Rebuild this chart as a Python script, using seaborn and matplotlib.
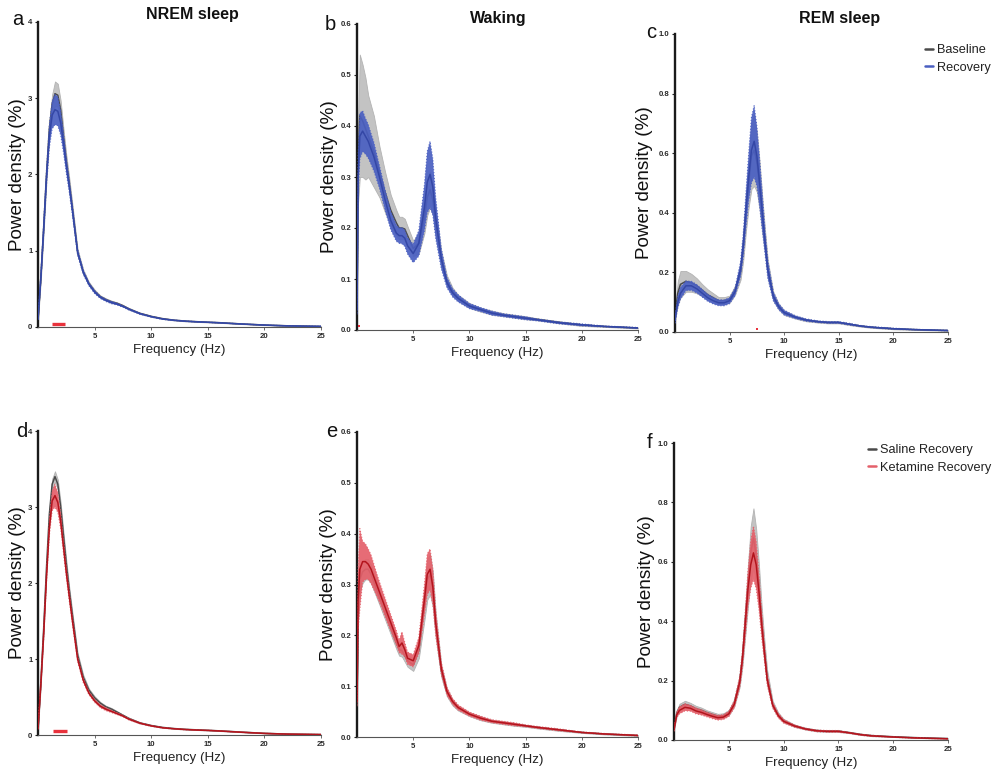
import numpy as np
import matplotlib
matplotlib.use("Agg")
import matplotlib.pyplot as plt
from matplotlib.lines import Line2D
import seaborn as sns

# ---------------- frequency grids (Hz) ----------------
freq_nrem = [0, 0.25, 0.5, 0.75, 1, 1.25, 1.5, 1.75, 2, 2.25, 2.5, 2.75, 3, 3.5, 4, 4.5,
             5, 5.5, 6, 6.5, 7, 7.5, 8, 9, 10, 11, 12, 13, 14, 15, 16, 18, 20, 22, 25]
freq_wake = [0, 0.1, 0.25, 0.5, 0.75, 1, 1.25, 1.5, 1.75, 2, 2.5, 3, 3.5, 3.75, 4, 4.25, 4.5,
             5, 5.5, 6, 6.25, 6.5, 6.75, 7, 7.5, 8, 8.5, 9, 10, 11, 12, 13, 14, 15, 16, 18, 20, 22, 25]
freq_rem = [0, 0.25, 0.5, 1, 1.5, 2, 2.5, 3, 3.5, 4, 4.5, 5, 5.5, 6, 6.25, 6.5, 6.75, 7, 7.25,
            7.5, 7.75, 8, 8.25, 8.5, 9, 9.5, 10, 11, 12, 13, 14, 15, 16, 17, 18, 20, 22, 25]

# ---------------- NREM: baseline vs recovery (a) ----------------
nrem_base_mean = [0.10, 0.65, 1.30, 2.00, 2.60, 2.92, 3.06, 3.04, 2.85, 2.50, 2.18, 1.90, 1.60,
                  0.98, 0.72, 0.57, 0.47, 0.40, 0.36, 0.33, 0.31, 0.28, 0.24, 0.18, 0.14, 0.11,
                  0.09, 0.078, 0.07, 0.063, 0.057, 0.04, 0.026, 0.016, 0.008]
nrem_base_sem = [0.01, 0.04, 0.06, 0.08, 0.10, 0.13, 0.16, 0.15, 0.12, 0.10, 0.08, 0.07, 0.06,
                 0.04, 0.03, 0.02, 0.02, 0.015, 0.015, 0.015, 0.012, 0.01, 0.01, 0.008, 0.006,
                 0.005, 0.004, 0.004, 0.003, 0.003, 0.003, 0.002, 0.002, 0.001, 0.001]
nrem_rec_mean = [0.10, 0.64, 1.28, 1.96, 2.50, 2.78, 2.85, 2.83, 2.68, 2.42, 2.12, 1.86, 1.58,
                 0.98, 0.72, 0.56, 0.46, 0.39, 0.35, 0.32, 0.30, 0.27, 0.235, 0.175, 0.135,
                 0.105, 0.088, 0.076, 0.068, 0.062, 0.055, 0.039, 0.025, 0.015, 0.008]
nrem_rec_sem = [0.01, 0.05, 0.08, 0.11, 0.15, 0.18, 0.20, 0.19, 0.16, 0.13, 0.10, 0.08, 0.07,
                0.04, 0.03, 0.02, 0.02, 0.015, 0.015, 0.015, 0.012, 0.01, 0.01, 0.008, 0.006,
                0.005, 0.004, 0.004, 0.003, 0.003, 0.003, 0.002, 0.002, 0.001, 0.001]

# ---------------- NREM: saline vs ketamine recovery (d) ----------------
nrem_sal_mean = [0.08, 0.70, 1.40, 2.20, 2.90, 3.30, 3.40, 3.30, 3.00, 2.62, 2.25, 1.92, 1.62,
                 1.05, 0.76, 0.59, 0.49, 0.42, 0.37, 0.34, 0.30, 0.26, 0.22, 0.16, 0.125, 0.10,
                 0.085, 0.075, 0.068, 0.062, 0.055, 0.038, 0.022, 0.012, 0.006]
nrem_sal_sem = [0.01, 0.04, 0.05, 0.05, 0.06, 0.07, 0.07, 0.06, 0.06, 0.05, 0.05, 0.04, 0.04,
                0.03, 0.03, 0.02, 0.02, 0.015, 0.015, 0.015, 0.012, 0.01, 0.01, 0.008, 0.006,
                0.005, 0.004, 0.004, 0.003, 0.003, 0.003, 0.002, 0.002, 0.001, 0.001]
nrem_ket_mean = [0.08, 0.66, 1.32, 2.08, 2.72, 3.08, 3.15, 3.06, 2.82, 2.48, 2.14, 1.84, 1.55,
                 1.00, 0.72, 0.55, 0.45, 0.38, 0.34, 0.31, 0.28, 0.25, 0.21, 0.155, 0.12, 0.095,
                 0.082, 0.072, 0.065, 0.06, 0.053, 0.036, 0.021, 0.012, 0.006]
nrem_ket_sem = [0.01, 0.04, 0.06, 0.08, 0.10, 0.13, 0.15, 0.13, 0.10, 0.08, 0.07, 0.06, 0.05,
                0.03, 0.03, 0.02, 0.02, 0.02, 0.02, 0.015, 0.012, 0.01, 0.01, 0.008, 0.006,
                0.005, 0.004, 0.004, 0.003, 0.003, 0.003, 0.002, 0.002, 0.001, 0.001]

# ---------------- Waking: baseline vs recovery (b) ----------------
wake_base_mean = [0.05, 0.33, 0.42, 0.41, 0.395, 0.38, 0.365, 0.35, 0.33, 0.31, 0.27, 0.235, 0.21,
                  0.20, 0.20, 0.198, 0.185, 0.16, 0.17, 0.22, 0.26, 0.275, 0.255, 0.21, 0.14,
                  0.097, 0.075, 0.063, 0.048, 0.04, 0.034, 0.03, 0.027, 0.024, 0.021, 0.015,
                  0.01, 0.007, 0.004]
wake_base_sem = [0.01, 0.08, 0.12, 0.11, 0.10, 0.08, 0.075, 0.07, 0.06, 0.05, 0.04, 0.03, 0.025,
                 0.022, 0.022, 0.02, 0.018, 0.015, 0.02, 0.03, 0.035, 0.035, 0.03, 0.025, 0.015,
                 0.01, 0.008, 0.006, 0.005, 0.004, 0.004, 0.003, 0.003, 0.003, 0.002, 0.002,
                 0.002, 0.001, 0.001]
wake_rec_mean = [0.04, 0.30, 0.38, 0.39, 0.38, 0.37, 0.355, 0.34, 0.32, 0.30, 0.255, 0.215, 0.19,
                 0.185, 0.185, 0.18, 0.165, 0.15, 0.17, 0.24, 0.29, 0.305, 0.28, 0.22, 0.14,
                 0.093, 0.073, 0.062, 0.047, 0.04, 0.033, 0.029, 0.026, 0.023, 0.02, 0.014,
                 0.01, 0.007, 0.004]
wake_rec_sem = [0.01, 0.04, 0.045, 0.04, 0.035, 0.033, 0.03, 0.028, 0.025, 0.022, 0.02, 0.018,
                0.016, 0.015, 0.016, 0.016, 0.016, 0.018, 0.025, 0.045, 0.06, 0.065, 0.055, 0.04,
                0.02, 0.01, 0.008, 0.007, 0.005, 0.004, 0.004, 0.003, 0.003, 0.003, 0.002,
                0.002, 0.002, 0.001, 0.001]

# ---------------- Waking: saline vs ketamine recovery (e) ----------------
wake_sal_mean = [0.07, 0.25, 0.31, 0.325, 0.33, 0.33, 0.32, 0.305, 0.29, 0.275, 0.245, 0.215,
                 0.185, 0.172, 0.17, 0.16, 0.15, 0.142, 0.17, 0.26, 0.31, 0.32, 0.29, 0.22,
                 0.13, 0.088, 0.068, 0.057, 0.045, 0.037, 0.031, 0.028, 0.025, 0.022, 0.019,
                 0.014, 0.009, 0.006, 0.003]
wake_sal_sem = [0.01, 0.02, 0.025, 0.022, 0.02, 0.02, 0.018, 0.017, 0.016, 0.015, 0.014, 0.013,
                0.012, 0.012, 0.012, 0.012, 0.012, 0.012, 0.015, 0.03, 0.04, 0.04, 0.035, 0.025,
                0.012, 0.008, 0.006, 0.005, 0.004, 0.004, 0.003, 0.003, 0.003, 0.002, 0.002,
                0.002, 0.001, 0.001, 0.001]
wake_ket_mean = [0.07, 0.27, 0.33, 0.345, 0.345, 0.34, 0.33, 0.315, 0.30, 0.285, 0.255, 0.225,
                 0.195, 0.178, 0.185, 0.172, 0.155, 0.15, 0.18, 0.27, 0.32, 0.33, 0.295, 0.225,
                 0.135, 0.09, 0.07, 0.058, 0.045, 0.037, 0.031, 0.028, 0.025, 0.022, 0.019,
                 0.014, 0.009, 0.006, 0.003]
wake_ket_sem = [0.01, 0.06, 0.08, 0.04, 0.035, 0.03, 0.028, 0.025, 0.022, 0.02, 0.018, 0.016,
                0.014, 0.012, 0.022, 0.014, 0.012, 0.012, 0.016, 0.03, 0.04, 0.04, 0.035, 0.025,
                0.012, 0.008, 0.006, 0.005, 0.004, 0.004, 0.003, 0.003, 0.003, 0.002, 0.002,
                0.002, 0.001, 0.001, 0.001]

# ---------------- REM: baseline vs recovery (c) ----------------
rem_base_mean = [0.05, 0.13, 0.16, 0.17, 0.165, 0.155, 0.14, 0.125, 0.115, 0.105, 0.105, 0.11,
                 0.14, 0.20, 0.28, 0.40, 0.50, 0.59, 0.61, 0.57, 0.49, 0.39, 0.30, 0.21, 0.12,
                 0.085, 0.065, 0.05, 0.04, 0.035, 0.032, 0.032, 0.026, 0.02, 0.016, 0.011,
                 0.008, 0.005]
rem_base_sem = [0.01, 0.04, 0.045, 0.035, 0.03, 0.025, 0.02, 0.018, 0.015, 0.012, 0.012, 0.012,
                0.015, 0.025, 0.04, 0.06, 0.08, 0.11, 0.12, 0.10, 0.08, 0.06, 0.04, 0.03, 0.015,
                0.01, 0.008, 0.005, 0.004, 0.003, 0.003, 0.003, 0.003, 0.002, 0.002, 0.002,
                0.001, 0.001]
rem_rec_mean = [0.04, 0.10, 0.13, 0.155, 0.155, 0.145, 0.13, 0.115, 0.105, 0.098, 0.098, 0.105,
                0.135, 0.21, 0.29, 0.41, 0.52, 0.61, 0.64, 0.59, 0.50, 0.40, 0.30, 0.21, 0.12,
                0.085, 0.065, 0.05, 0.04, 0.035, 0.032, 0.032, 0.026, 0.02, 0.016, 0.011,
                0.008, 0.005]
rem_rec_sem = [0.01, 0.02, 0.02, 0.016, 0.015, 0.014, 0.013, 0.012, 0.011, 0.01, 0.01, 0.01,
               0.013, 0.025, 0.04, 0.06, 0.08, 0.11, 0.12, 0.10, 0.08, 0.06, 0.04, 0.03, 0.015,
               0.01, 0.008, 0.005, 0.004, 0.003, 0.003, 0.003, 0.003, 0.002, 0.002, 0.002,
               0.001, 0.001]

# ---------------- REM: saline vs ketamine recovery (f) ----------------
rem_sal_mean = [0.04, 0.09, 0.11, 0.12, 0.115, 0.105, 0.10, 0.092, 0.086, 0.08, 0.082, 0.092,
                0.125, 0.20, 0.28, 0.40, 0.52, 0.63, 0.68, 0.62, 0.52, 0.40, 0.30, 0.21, 0.12,
                0.085, 0.065, 0.048, 0.038, 0.032, 0.03, 0.03, 0.025, 0.019, 0.015, 0.011,
                0.008, 0.005]
rem_sal_sem = [0.005, 0.01, 0.012, 0.012, 0.01, 0.01, 0.009, 0.008, 0.008, 0.008, 0.008, 0.009,
               0.012, 0.02, 0.03, 0.05, 0.07, 0.09, 0.10, 0.09, 0.07, 0.05, 0.035, 0.025, 0.012,
               0.008, 0.006, 0.004, 0.003, 0.003, 0.003, 0.003, 0.002, 0.002, 0.002, 0.001,
               0.001, 0.001]
rem_ket_mean = [0.035, 0.085, 0.10, 0.11, 0.107, 0.098, 0.093, 0.086, 0.08, 0.075, 0.077, 0.088,
                0.12, 0.195, 0.275, 0.39, 0.51, 0.59, 0.63, 0.59, 0.50, 0.39, 0.295, 0.205, 0.118,
                0.083, 0.063, 0.047, 0.037, 0.031, 0.029, 0.029, 0.024, 0.018, 0.014, 0.01,
                0.007, 0.004]
rem_ket_sem = [0.005, 0.01, 0.012, 0.012, 0.01, 0.01, 0.009, 0.008, 0.008, 0.008, 0.008, 0.009,
               0.012, 0.02, 0.03, 0.045, 0.06, 0.08, 0.09, 0.08, 0.06, 0.045, 0.03, 0.02, 0.01,
               0.008, 0.006, 0.004, 0.003, 0.003, 0.003, 0.003, 0.002, 0.002, 0.002, 0.001,
               0.001, 0.001]

# significant frequency bins (horizontal bars / single points)
sig_band_a = [1.25, 2.4]
sig_level_a = 0.045
sig_band_d = [1.3, 2.6]
sig_level_d = 0.055
sig_point_b = [0.15, 0.008]
sig_point_c = [7.5, 0.011]

titles = ["NREM sleep", "Waking", "REM sleep"]
panel_letters = ["a", "b", "c", "d", "e", "f"]
legend_top = ["Baseline", "Recovery"]
legend_bottom = ["Saline Recovery", "Ketamine Recovery"]
x_ticks = [5, 10, 15, 20, 25]

# ---------------- style ----------------
sns.set_theme(style="ticks")
plt.rcParams["font.family"] = ["Liberation Sans", "DejaVu Sans"]

GRAY_BAND, GRAY_LINE = "#c3c3c3", "#4a4a4a"
BLUE_BAND, BLUE_LINE = "#4a5fc1", "#3447a6"
RED_BAND, RED_LINE = "#e4606a", "#b3141d"
SIG_RED = "#e8323c"

W, H = 1000, 772
fig = plt.figure(figsize=(W / 100, H / 100), dpi=100)


def px_axes(left, top, right, bottom):
    return fig.add_axes([left / W, 1 - bottom / H, (right - left) / W, (bottom - top) / H])


def draw(ax, freq, ref_m, ref_s, tst_m, tst_s, band2, line2, ymax, ystep, yfmt):
    f = np.asarray(freq)
    rm, rs = np.asarray(ref_m), np.asarray(ref_s)
    tm, ts = np.asarray(tst_m), np.asarray(tst_s)
    # reference group: band then mean line, test group drawn over it
    ax.fill_between(f, rm - rs, rm + rs, color=GRAY_BAND, lw=0.6, ec="#b3b3b3", zorder=1)
    sns.lineplot(x=f, y=rm, ax=ax, color=GRAY_LINE, lw=1.1, zorder=2)
    ax.fill_between(f, tm - ts, tm + ts, color=band2, alpha=0.92, lw=0.8, ec=band2,
                    linestyle=":", zorder=3)
    sns.lineplot(x=f, y=tm, ax=ax, color=line2, lw=1.1, zorder=4)
    ax.set_xlim(0, 25)
    ax.set_ylim(0, ymax)
    ax.set_xticks(x_ticks)
    yt = np.round(np.arange(0, ymax + ystep / 2, ystep), 3)
    ax.set_yticks(yt)
    ax.set_yticklabels([yfmt.format(v) for v in yt])
    for lab in ax.get_xticklabels() + ax.get_yticklabels():
        lab.set_fontsize(5.6)
        lab.set_fontweight("bold")
        lab.set_color("#2a2a2a")
    ax.tick_params(axis="y", length=2.5, width=0.8, pad=1.5, color="#222222")
    ax.tick_params(axis="x", length=2.5, width=0.6, pad=2, color="#555555")
    ax.spines["left"].set_linewidth(1.7)
    ax.spines["left"].set_color("#1a1a1a")
    ax.spines["bottom"].set_linewidth(0.8)
    ax.spines["bottom"].set_color("#555555")
    sns.despine(ax=ax)
    ax.set_xlabel("Frequency (Hz)", fontsize=9.6, color="#222222", labelpad=3)
    ax.set_ylabel("Power density (%)", fontsize=13.6, color="#111111")
    ax.set_facecolor("white")


# panel boxes in pixel coordinates (left, top, right, bottom)
boxes = [(38, 22, 321, 327), (357, 24, 638, 330), (675, 34, 948, 332),
         (38, 431, 321, 735), (357, 432, 638, 737), (674, 443, 948, 740)]
axes = [px_axes(*b) for b in boxes]

draw(axes[0], freq_nrem, nrem_base_mean, nrem_base_sem, nrem_rec_mean, nrem_rec_sem,
     BLUE_BAND, BLUE_LINE, 4, 1, "{:.0f}")
draw(axes[1], freq_wake, wake_base_mean, wake_base_sem, wake_rec_mean, wake_rec_sem,
     BLUE_BAND, BLUE_LINE, 0.6, 0.1, "{:.1f}")
draw(axes[2], freq_rem, rem_base_mean, rem_base_sem, rem_rec_mean, rem_rec_sem,
     BLUE_BAND, BLUE_LINE, 1.0, 0.2, "{:.1f}")
draw(axes[3], freq_nrem, nrem_sal_mean, nrem_sal_sem, nrem_ket_mean, nrem_ket_sem,
     RED_BAND, RED_LINE, 4, 1, "{:.0f}")
draw(axes[4], freq_wake, wake_sal_mean, wake_sal_sem, wake_ket_mean, wake_ket_sem,
     RED_BAND, RED_LINE, 0.6, 0.1, "{:.1f}")
draw(axes[5], freq_rem, rem_sal_mean, rem_sal_sem, rem_ket_mean, rem_ket_sem,
     RED_BAND, RED_LINE, 1.0, 0.2, "{:.1f}")

# y-label horizontal offsets (px from the axis line to the label's right edge)
label_gap = [12, 19, 22, 12, 20, 19]
for ax, b, g in zip(axes, boxes, label_gap):
    ax.yaxis.set_label_coords(-g / (b[2] - b[0]), 0.5)

# significance markers
axes[0].plot(sig_band_a, [sig_level_a] * 2, color=SIG_RED, lw=2.4, solid_capstyle="butt", zorder=5)
axes[3].plot(sig_band_d, [sig_level_d] * 2, color=SIG_RED, lw=2.4, solid_capstyle="butt", zorder=5)
axes[1].plot(*sig_point_b, "s", color=SIG_RED, ms=1.8, mew=0, zorder=5, clip_on=False)
axes[2].plot(*sig_point_c, "s", color=SIG_RED, ms=2.0, mew=0, zorder=5, clip_on=False)

# column titles
for t, xc, yc in zip(titles, [192, 498, 840], [15, 18, 18]):
    fig.text(xc / W, 1 - yc / H, t, fontsize=11.5, fontweight="bold", ha="center", va="center",
             color="#111111")

# panel letters (baseline positions)
for letter, (xc, yb) in zip(panel_letters, [(18, 25), (330, 30), (651, 38), (22, 437),
                                             (332, 437), (650, 448)]):
    fig.text(xc / W, 1 - yb / H, letter, fontsize=14.5, ha="center", va="baseline",
             color="#111111")

# legends
def add_legend(ax, labels, colors, x_px, y_px):
    handles = [Line2D([], [], color=c, lw=1.8) for c in colors]
    ax.legend(handles, labels, loc="upper left", bbox_to_anchor=(x_px / W, 1 - y_px / H),
              bbox_transform=fig.transFigure, frameon=False, fontsize=9.2, handlelength=0.6,
              handletextpad=0.35, labelspacing=0.45, borderpad=0, borderaxespad=0,
              labelcolor="#222222")


add_legend(axes[2], legend_top, [GRAY_LINE, BLUE_BAND], 925, 44)
add_legend(axes[5], legend_bottom, [GRAY_LINE, RED_BAND], 868, 444)

fig.savefig("out.png", dpi=100, facecolor="white")
